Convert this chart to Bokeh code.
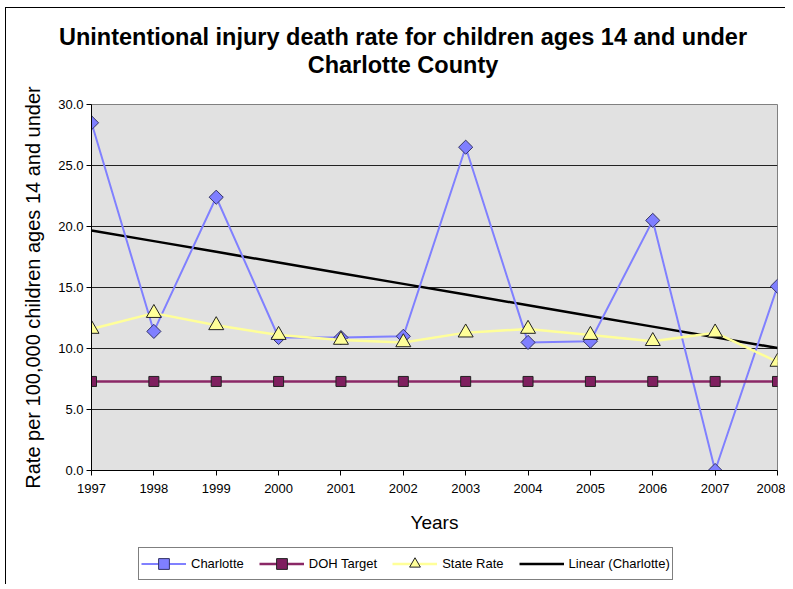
import numpy as np
from bokeh.plotting import figure
from bokeh.layouts import column
from bokeh.models import (Range1d, FixedTicker, NumeralTickFormatter, Div,
                          Legend, LegendItem, ColumnDataSource)
from bokeh.embed import file_html
from bokeh.resources import INLINE

years = [1997, 1998, 1999, 2000, 2001, 2002, 2003, 2004, 2005, 2006, 2007, 2008]
charlotte = [28.5, 11.4, 22.4, 10.9, 10.9, 11.0, 26.5, 10.5, 10.6, 20.5, 0.0, 15.1]
doh_target = [7.3] * 12
state_rate = [11.6, 12.9, 11.9, 11.1, 10.7, 10.5, 11.3, 11.6, 11.1, 10.6, 11.3, 8.9]
y_ticks = [0, 5, 10, 15, 20, 25, 30]
title_lines = ["Unintentional injury death rate for children ages 14 and under",
               "Charlotte County"]

FONT = "Liberation Sans"

# linear trend of Charlotte (least squares)
coef = np.polyfit(np.array(years, dtype=float), np.array(charlotte), 1)
trend = list(np.polyval(coef, np.array(years, dtype=float)))

src = ColumnDataSource(dict(x=years, c=charlotte, d=doh_target, s=state_rate, t=trend))

ST = dict(
    trend=dict(line_color="black", line_width=2.5),
    c_line=dict(line_color="#8080FF", line_width=2),
    c_mk=dict(marker="square", angle=np.pi / 4, size=10, fill_color="#7F7FFF",
              line_color="#333366", line_width=1),
    d_line=dict(line_color="#8A2866", line_width=2.5),
    d_mk=dict(marker="square", size=10, fill_color="#7F1F5F", line_color="#222222",
              line_width=1),
    s_line=dict(line_color="#FFFF99", line_width=2.5),
    s_mk=dict(marker="triangle", size=15, fill_color="#FFFF99", line_color="#222222",
              line_width=1),
)

W = 779

# ---- title block ----
title = Div(
    text=("<div style=\"width:%dpx;box-sizing:border-box;text-align:center;"
          "font-family:'Liberation Sans';font-weight:bold;font-size:23.5px;"
          "line-height:28px;padding-top:15px;padding-left:15px;color:#000;\">"
          "%s<br>%s</div>") % (W, title_lines[0], title_lines[1]),
    width=W, height=70, margin=(0, 0, 0, 0))

# ---- main chart ----
p = figure(width=W, height=462, output_backend="svg", toolbar_location=None,
           x_range=Range1d(1997, 2008), y_range=Range1d(0, 30),
           min_border_left=85, min_border_right=8, min_border_top=26,
           min_border_bottom=70)

p.background_fill_color = "#E1E1E1"
p.border_fill_color = "white"
p.outline_line_color = "#808080"
p.outline_line_width = 1

p.xgrid.grid_line_color = None
p.ygrid.grid_line_color = "#222222"
p.ygrid.grid_line_width = 1

p.xaxis.ticker = FixedTicker(ticks=years)
p.yaxis.ticker = FixedTicker(ticks=y_ticks)
p.yaxis.formatter = NumeralTickFormatter(format="0.0")
for ax in (p.xaxis, p.yaxis):
    ax.axis_line_color = "black"
    ax.major_tick_line_color = "black"
    ax.major_tick_out = 5
    ax.major_tick_in = 0
    ax.minor_tick_line_color = None
    ax.major_label_text_font = FONT
    ax.major_label_text_font_size = "13px"
    ax.major_label_text_color = "black"
    ax.axis_label_text_font = FONT
    ax.axis_label_text_font_style = "normal"
    ax.axis_label_text_color = "black"
p.xaxis.major_label_standoff = 8
p.yaxis.major_label_standoff = 3
p.xaxis.axis_label = "Years"
p.xaxis.axis_label_text_font_size = "19px"
p.xaxis.axis_label_standoff = 16
p.yaxis.axis_label = "Rate per 100,000 children ages 14 and under"
p.yaxis.axis_label_text_font_size = "20px"
p.yaxis.axis_label_standoff = 11

p.line("x", "t", source=src, **ST["trend"])
p.line("x", "c", source=src, **ST["c_line"])
p.scatter("x", "c", source=src, **ST["c_mk"])
p.line("x", "d", source=src, **ST["d_line"])
p.scatter("x", "d", source=src, **ST["d_mk"])
p.line("x", "s", source=src, **ST["s_line"])
p.scatter("x", "s", source=src, **ST["s_mk"])

# ---- legend strip (same series, viewed outside their range so only swatches show) ----
lg = figure(width=W, height=44, output_backend="svg", toolbar_location=None,
            x_range=Range1d(0, 1), y_range=Range1d(0, 1),
            x_axis_location=None, y_axis_location=None,
            min_border_left=0, min_border_right=0, min_border_top=0, min_border_bottom=0)
lg.outline_line_color = None
lg.background_fill_color = "white"
lg.border_fill_color = "white"
lg.xgrid.grid_line_color = None
lg.ygrid.grid_line_color = None
l_tr = lg.line("x", "t", source=src, **ST["trend"])
l_cl = lg.line("x", "c", source=src, **ST["c_line"])
l_cm = lg.scatter("x", "c", source=src, **ST["c_mk"])
l_dl = lg.line("x", "d", source=src, **ST["d_line"])
l_dm = lg.scatter("x", "d", source=src, **ST["d_mk"])
l_sl = lg.line("x", "s", source=src, **ST["s_line"])
l_sm = lg.scatter("x", "s", source=src, **ST["s_mk"])

legend = Legend(items=[
    LegendItem(label="Charlotte", renderers=[l_cl, l_cm]),
    LegendItem(label="DOH Target", renderers=[l_dl, l_dm]),
    LegendItem(label="State Rate", renderers=[l_sl, l_sm]),
    LegendItem(label="Linear (Charlotte)", renderers=[l_tr]),
], orientation="horizontal", location=(47, 4))
legend.label_text_font = FONT
legend.label_text_font_size = "13px"
legend.label_text_color = "black"
legend.border_line_color = "black"
legend.border_line_width = 1
legend.background_fill_color = "white"
legend.background_fill_alpha = 1
legend.glyph_width = 45
legend.glyph_height = 27
legend.label_standoff = 5
legend.spacing = 15
legend.padding = 2
legend.margin = 0
lg.add_layout(legend, "center")

layout = column(title, p, lg, spacing=0)
layout.styles = {"margin-left": "5px", "margin-top": "7px",
                 "border-left": "1px solid #000000", "border-top": "1px solid #000000"}

open("out.html", "w").write(file_html(layout, INLINE))
